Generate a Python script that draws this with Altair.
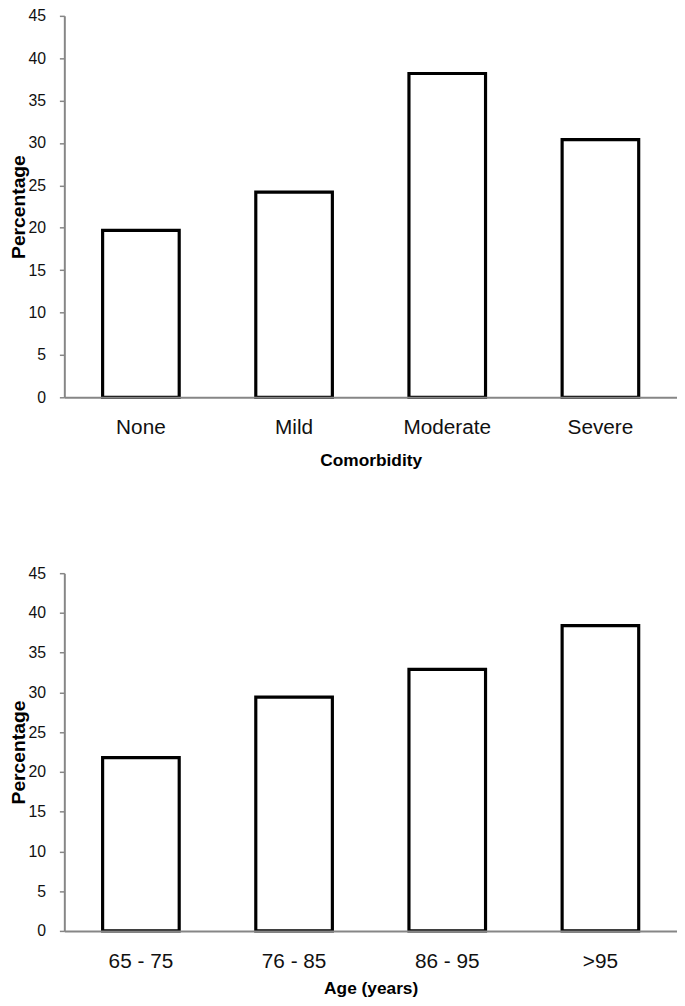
import altair as alt
import pandas as pd

comorbidity = ["None", "Mild", "Moderate", "Severe"]
comorbidity_pct = [19.7, 24.2, 38.2, 30.4]

age_groups = ["65 - 75", "76 - 85", "86 - 95", ">95"]
age_pct = [21.8, 29.4, 32.9, 38.4]

y_ticks = [0, 5, 10, 15, 20, 25, 30, 35, 40, 45]

FONT = "Liberation Sans"
AXIS_GRAY = "#868686"


def panel(cats, vals, xtitle, h, lab_pad, title_pad):
    df = pd.DataFrame({"cat": cats, "pct": vals})
    return (
        alt.Chart(df)
        .mark_bar(fill="white", stroke="black", strokeWidth=3.2, strokeJoin="miter")
        .encode(
            x=alt.X(
                "cat:N",
                sort=cats,
                title=xtitle,
                scale=alt.Scale(paddingInner=0.5, paddingOuter=0.25),
                axis=alt.Axis(
                    labelAngle=0,
                    ticks=False,
                    labelPadding=lab_pad,
                    titlePadding=title_pad,
                    labelFontSize=21,
                    titleFontSize=17.5,
                    titleFontWeight="bold",
                    domainColor=AXIS_GRAY,
                    domainWidth=2,
                    labelColor="#111111",
                    titleColor="#000000",
                    zindex=1,
                ),
            ),
            y=alt.Y(
                "pct:Q",
                title="Percentage",
                scale=alt.Scale(domain=[0, 45], nice=False),
                axis=alt.Axis(
                    values=y_ticks,
                    grid=False,
                    tickSize=5,
                    tickColor=AXIS_GRAY,
                    tickWidth=1.5,
                    domainColor=AXIS_GRAY,
                    domainWidth=2,
                    labelFontSize=16,
                    labelPadding=14,
                    labelColor="#111111",
                    titleFontSize=19.5,
                    titleFontWeight="bold",
                    titleColor="#000000",
                    titlePadding=0,
                ),
            ),
        )
        .properties(width=620, height=h)
    )


top = panel(comorbidity, comorbidity_pct, "Comorbidity", 386, 20, 14)
bottom = panel(age_groups, age_pct, "Age (years)", 362, 20, 8)

chart = (
    alt.vconcat(top, bottom, spacing=97)
    .properties(padding={"left": 0, "top": -6, "right": 0, "bottom": 0})
    .configure(font=FONT, view=alt.ViewConfig(stroke=None))
)

chart.save("out.html", embed_options={"renderer": "svg", "actions": False})
